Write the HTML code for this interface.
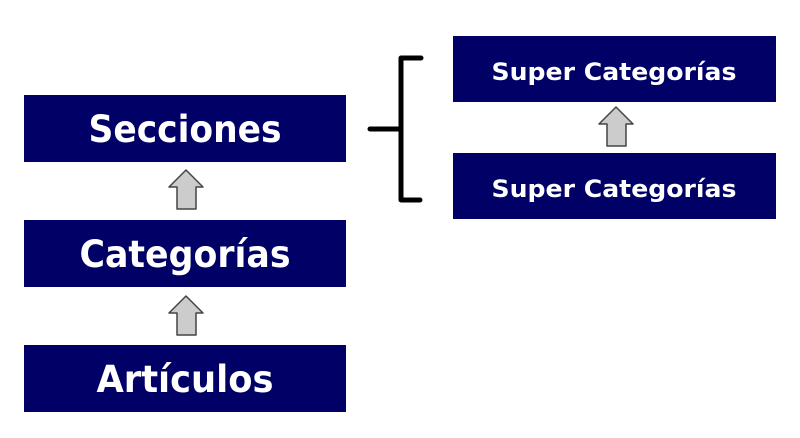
<!DOCTYPE html>
<html><head><style>html,body{margin:0;padding:0;background:#fff;}svg{display:block;}</style></head><body>
<svg width="800" height="438" xmlns="http://www.w3.org/2000/svg">
<defs>
<g id="arr"><polygon points="0,-16 17,1 10,1 10,23 -9,23 -9,1 -17,1" fill="#cccccc" stroke="#444" stroke-width="1.5" stroke-linejoin="round"/></g>
</defs>
<g fill="#000066">
<rect x="24" y="95" width="322" height="67"/>
<rect x="24" y="220" width="322" height="67"/>
<rect x="24" y="345" width="322" height="67"/>
<rect x="453" y="36" width="323" height="66"/>
<rect x="453" y="153" width="323" height="66"/>
</g>
<g fill="#fff" font-family="DejaVu Sans, Liberation Sans, sans-serif" font-weight="bold">
<text x="185" y="142" font-size="37" text-anchor="middle" textLength="193" lengthAdjust="spacingAndGlyphs">Secciones</text>
<text x="185" y="267" font-size="37" text-anchor="middle" textLength="211" lengthAdjust="spacingAndGlyphs">Categorías</text>
<text x="185" y="392" font-size="37" text-anchor="middle" textLength="177" lengthAdjust="spacingAndGlyphs">Artículos</text>
<text x="614" y="80" font-size="24" text-anchor="middle" textLength="245" lengthAdjust="spacingAndGlyphs">Super Categorías</text>
<text x="614" y="197" font-size="24" text-anchor="middle" textLength="245" lengthAdjust="spacingAndGlyphs">Super Categorías</text>
</g>
<use href="#arr" x="186" y="186"/>
<use href="#arr" x="186" y="312"/>
<use href="#arr" x="616" y="123"/>
<g stroke="#000" stroke-width="5" fill="none" stroke-linecap="round" stroke-linejoin="round">
<line x1="370" y1="129" x2="401" y2="129"/>
<polyline points="421,58 401,58 401,200 420,200"/>
</g>
</svg>
</body></html>
